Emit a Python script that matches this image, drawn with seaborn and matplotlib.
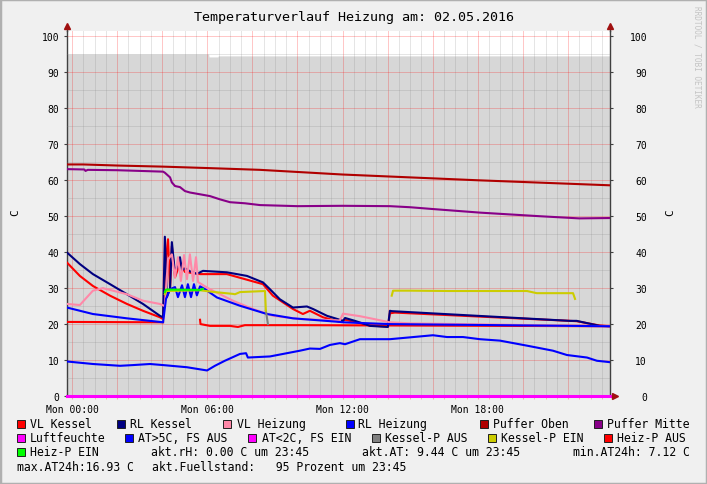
import numpy as np
import pandas as pd
import seaborn as sns
import matplotlib.pyplot as plt
import matplotlib.transforms as mtrans
from matplotlib.patches import Rectangle
from matplotlib.ticker import MultipleLocator, FuncFormatter

W, H = 707, 485

# time in hours since Mon 00:00, values in C
fuell_t = [-0.22, 6.06, 6.08, 6.47, 6.49, 23.86]
fuell_v = [95.1, 95.1, 94.3, 94.3, 94.6, 94.6]

po_t = [-0.22, 0.5, 2.0, 4.0, 6.0, 8.34, 12.0, 18.0, 23.86]
po_v = [64.4, 64.4, 64.1, 63.8, 63.4, 62.9, 61.6, 60.0, 58.6]

pm_t = [-0.22, 0.55, 0.6, 0.7, 2.0, 4.04, 4.12, 4.35, 4.43, 4.57, 4.79, 5.01, 5.23, 5.68,
        6.12, 6.56, 7.01, 7.67, 8.34, 10.0, 12.0, 14.1, 15.0, 16.0, 18.1, 20.75, 22.5, 23.86]
pm_v = [63.1, 63.0, 62.6, 62.9, 62.8, 62.4, 62.1, 60.8, 59.4, 58.4, 58.1, 57.0, 56.6, 56.1,
        55.6, 54.7, 53.9, 53.6, 53.1, 52.8, 52.9, 52.8, 52.5, 52.0, 51.0, 50.0, 49.4, 49.5]

at_t = [-0.22, 0.93, 2.13, 2.71, 3.46, 4.04, 5.10, 5.99, 6.34, 6.78, 7.45, 7.72, 7.80,
        8.78, 10.11, 10.55, 11.0, 11.44, 11.88, 12.11, 12.77, 14.10, 16.01, 16.63, 17.34,
        18.09, 18.98, 20.18, 21.33, 21.95, 22.84, 23.28, 23.73, 23.86]
at_v = [9.6, 8.9, 8.4, 8.6, 8.9, 8.6, 8.0, 7.1, 8.4, 9.8, 11.7, 11.9, 10.7,
        11.0, 12.6, 13.2, 13.1, 14.2, 14.7, 14.4, 15.8, 15.8, 16.9, 16.4, 16.4,
        15.8, 15.4, 14.0, 12.6, 11.4, 10.7, 9.8, 9.5, 9.4]

vk_t = [-0.22, 0.35, 0.93, 1.69, 2.44, 3.15, 3.90, 4.04, 4.17, 4.26, 4.35, 4.43, 4.57,
        4.79, 5.01, 5.68, 6.87, 8.47, 8.91, 9.80, 10.24, 10.55, 11.13, 11.88, 12.11,
        12.55, 13.22, 14.01, 14.10, 14.32, 22.08, 22.38, 23.41, 23.86]
vk_v = [37.1, 33.4, 30.6, 27.9, 25.6, 23.7, 21.9, 21.4, 38.0, 43.6, 30.0, 41.7, 33.0,
        37.0, 34.5, 33.9, 33.9, 31.1, 27.9, 24.2, 22.8, 23.7, 21.9, 20.6, 21.2,
        20.6, 19.6, 19.3, 23.0, 23.2, 20.9, 20.8, 19.6, 19.4]

rk_t = [-0.22, 0.35, 0.93, 1.69, 2.44, 3.15, 3.90, 4.04, 4.12, 4.21, 4.35, 4.43, 4.57,
        4.70, 4.79, 4.88, 5.01, 5.23, 5.54, 5.68, 5.81, 6.87, 7.76, 8.47, 8.78, 9.22,
        9.80, 10.42, 10.69, 11.31, 11.88, 12.02, 12.11, 12.55, 13.22, 14.01, 14.10,
        14.18, 22.08, 22.38, 23.41, 23.86]
rk_v = [39.9, 36.7, 33.9, 31.1, 28.3, 25.6, 22.3, 21.9, 44.3, 27.5, 30.0, 42.8, 34.0,
        37.0, 38.6, 35.0, 35.5, 34.7, 34.0, 34.4, 34.8, 34.4, 33.4, 31.6, 29.7, 26.9,
        24.6, 24.9, 24.2, 22.3, 21.2, 20.9, 21.7, 20.9, 19.5, 19.2, 23.7,
        23.6, 20.9, 20.9, 19.5, 19.4]

vh_t = [-0.22, 0.35, 0.93, 1.37, 2.44, 3.15, 3.90, 4.12, 4.26, 4.43, 4.57, 4.70, 4.83,
        4.97, 5.10, 5.23, 5.37, 5.50, 5.59, 5.90, 6.12, 7.14, 8.03, 8.91, 10.11, 11.0,
        11.88, 12.02, 12.77, 14.10, 15.0, 23.86]
vh_v = [25.6, 25.3, 29.3, 30.0, 28.3, 26.5, 25.6, 25.0, 38.0, 39.4, 33.0, 38.6, 32.0,
        39.2, 32.5, 39.4, 32.0, 38.6, 31.7, 30.5, 29.7, 26.5, 24.2, 22.3, 21.4, 21.2,
        21.0, 22.9, 22.2, 20.5, 20.2, 19.4]

rh_t = [-0.22, 0.93, 2.44, 3.90, 4.04, 4.17, 4.35, 4.57, 4.70, 4.88, 5.01, 5.14, 5.28,
        5.41, 5.54, 5.68, 5.90, 6.43, 7.45, 8.65, 9.80, 11.88, 12.02, 14.10, 23.86]
rh_v = [24.6, 22.8, 21.6, 20.6, 20.5, 27.0, 29.7, 30.3, 27.5, 30.8, 27.5, 31.1, 27.5,
        31.1, 28.0, 30.5, 29.7, 27.4, 25.1, 22.8, 21.6, 20.6, 20.5, 20.0, 19.4]

ha_t1 = [-0.22, 4.04]
ha_v1 = [20.6, 20.5]
ha_t2 = [5.68, 5.70, 6.12, 7.01, 7.36, 7.67, 9.22, 10.11, 23.86]
ha_v2 = [21.2, 20.0, 19.5, 19.5, 19.2, 19.7, 19.7, 19.7, 19.4]

ke_t1 = [4.12, 4.17, 5.68, 6.34, 7.14, 7.23, 7.45, 8.56, 8.60]
ke_v1 = [28.3, 29.2, 29.4, 28.9, 28.4, 28.3, 28.9, 29.2, 23.7]
ke_t2 = [14.18, 14.24, 14.99, 16.76, 20.18, 20.61, 22.22, 22.31]
ke_v2 = [27.9, 29.3, 29.3, 29.2, 29.2, 28.6, 28.6, 27.0]

kp_t = [8.60, 8.69]
kp_v = [23.7, 20.0]

he_t = [4.12, 4.17, 5.68, 5.81]
he_v = [28.9, 29.6, 29.5, 29.8]

lf_t = [-0.22, 23.86]
lf_v = [0.0, 0.0]

legend_rows = [
    [("VL Kessel", "#ff0000"), ("RL Kessel", "#000080"), ("VL Heizung", "#ff88a8"),
     ("RL Heizung", "#0000ff"), ("Puffer Oben", "#b00000"), ("Puffer Mitte", "#880088")],
    [("Luftfeuchte", "#ff00ff"), ("AT>5C, FS AUS", "#0000ff"), ("AT<2C, FS EIN", "#ff00ff"),
     ("Kessel-P AUS", "#808080"), ("Kessel-P EIN", "#cccc00"), ("Heiz-P AUS", "#ff0000")],
    [("Heiz-P EIN", "#00ff00")],
]
info_texts = ["akt.rH: 0.00 C um 23:45", "akt.AT: 9.44 C um 23:45", "min.AT24h: 7.12 C",
              "max.AT24h:16.93 C", "akt.Fuellstand:   95 Prozent um 23:45"]

# drawing order (later = on top)
series = [
    ("AT", at_t, at_v, "#0000ff"),
    ("Puffer Oben", po_t, po_v, "#b00000"),
    ("Puffer Mitte", pm_t, pm_v, "#880088"),
    ("Heiz-P AUS 1", ha_t1, ha_v1, "#ff0000"),
    ("Heiz-P AUS 2", ha_t2, ha_v2, "#ff0000"),
    ("VL Kessel", vk_t, vk_v, "#ff0000"),
    ("RL Kessel", rk_t, rk_v, "#000080"),
    ("VL Heizung", vh_t, vh_v, "#ff88a8"),
    ("RL Heizung", rh_t, rh_v, "#0000ff"),
    ("Kessel-P AUS", kp_t, kp_v, "#808080"),
    ("Kessel-P EIN 1", ke_t1, ke_v1, "#cccc00"),
    ("Kessel-P EIN 2", ke_t2, ke_v2, "#cccc00"),
    ("Heiz-P EIN", he_t, he_v, "#00ff00"),
]

df = pd.concat([pd.DataFrame({"key": k, "t": t, "v": v}) for k, t, v, c in series],
               ignore_index=True)
palette = {k: c for k, t, v, c in series}
order = [k for k, t, v, c in series]

MONO = "DejaVu Sans Mono"
plt.rcParams["font.family"] = MONO

fig = plt.figure(figsize=(W / 100, H / 100), dpi=100)
fig.patch.set_facecolor("#f0f0f0")


def fx(x):
    return x / W


def fy(y):
    return 1 - y / H


ax_l, ax_r, ax_b, ax_t = 67, 610, 397, 31.7
ax = fig.add_axes([fx(ax_l), fy(ax_b), (ax_r - ax_l) / W, (ax_b - ax_t) / H])
ax.set_facecolor("white")

ax.fill_between(fuell_t, 0, fuell_v, color="#d7d7d7", lw=0, zorder=1)

sns.lineplot(data=df, x="t", y="v", hue="key", hue_order=order, palette=palette,
             estimator=None, sort=False, legend=False, linewidth=1.5, ax=ax, zorder=3)
ax.plot(lf_t, lf_v, color="#ff00ff", lw=2.2, clip_on=False, zorder=4)

ax.set_xlim(-0.22, 23.86)
ax.set_ylim(0, 101.6)

ax.xaxis.set_major_locator(MultipleLocator(2))
ax.xaxis.set_minor_locator(MultipleLocator(0.5))
ax.xaxis.set_major_formatter(FuncFormatter(
    lambda h, p: "Mon %02d:00" % h if int(round(h)) % 6 == 0 else ""))
ax.yaxis.set_major_locator(MultipleLocator(10))
ax.yaxis.set_minor_locator(MultipleLocator(5))

ax.grid(which="minor", color="#808080", alpha=0.2, lw=0.72)
ax.grid(which="major", color="#ff0000", alpha=0.22, lw=0.72)
ax.set_axisbelow(False)
for ln in ax.get_xgridlines() + ax.get_ygridlines():
    ln.set_zorder(2)

ax.tick_params(axis="x", which="both", length=2, color="#e8b0b0", labelsize=7,
               pad=3.5, labelcolor="black")
ax.tick_params(axis="y", which="major", length=2, color="#404040", labelsize=7,
               left=True, right=True, labelleft=True, labelright=True, pad=3.5)
ax.tick_params(axis="y", which="minor", length=0)
fig.canvas.draw()
for t in ax.yaxis.get_major_ticks():
    t.label2.set_horizontalalignment("right")
    t.label2.set_x(1.0)
    t.label2.set_transform(ax.get_yaxis_transform() +
                           mtrans.ScaledTranslation(37 / 100, 0, fig.dpi_scale_trans))

ax.set_xlabel("")
ax.set_ylabel("")
for s in ["top", "bottom"]:
    ax.spines[s].set_visible(False)
for s in ["left", "right"]:
    ax.spines[s].set_color("#404040")
    ax.spines[s].set_linewidth(1.0)

# axis arrows
ext = 5 / (ax_b - ax_t)
ax.plot([0, 0], [1, 1 + ext], transform=ax.transAxes, color="#404040", lw=1, clip_on=False)
ax.plot([1, 1], [1, 1 + ext], transform=ax.transAxes, color="#404040", lw=1, clip_on=False)
ax.plot([0, 1], [1 + ext, 1 + ext], transform=ax.transAxes, marker="^", markersize=4,
        color="#a01010", lw=0, clip_on=False, zorder=6)
ax.plot([1 + 5 / (ax_r - ax_l)], [0], transform=ax.transAxes, marker=">", markersize=4,
        color="#a01010", lw=0, clip_on=False, zorder=6)

fig.text(0.5, fy(17), "Temperaturverlauf Heizung am: 02.05.2016", ha="center", va="center",
         fontsize=9.6, family=MONO)
fig.text(fx(15), fy(213), "C", rotation=90, ha="center", va="center", fontsize=8)
fig.text(fx(670), fy(213), "C", rotation=90, ha="center", va="center", fontsize=8)
fig.text(fx(697), fy(6), "RRDTOOL / TOBI OETIKER", rotation=270, ha="center", va="top",
         fontsize=5.6, color="#c4c4c4")

# legend
row_y = [424.5, 439, 453, 467.3]
sq_x = [[17, 117, 223, 346, 480, 594], [17, 125, 248, 372, 488, 604], [17]]
tx_x = [[30, 130, 237, 358, 493, 607], [30, 138, 262, 385, 501, 617], [30]]
for r, row in enumerate(legend_rows):
    for i, (name, col) in enumerate(row):
        fig.patches.append(Rectangle((fx(sq_x[r][i]), fy(row_y[r] + 4)), 8 / W, 8 / H,
                                     transform=fig.transFigure, facecolor=col,
                                     edgecolor="#202020", lw=0.7))
        fig.text(fx(tx_x[r][i]), fy(row_y[r]), name, ha="left", va="center", fontsize=8.3)

info_pos = [(151, row_y[2]), (362, row_y[2]), (573, row_y[2]), (17, row_y[3]), (152, row_y[3])]
for (x, y), s in zip(info_pos, info_texts):
    fig.text(fx(x), fy(y), s, ha="left", va="center", fontsize=8.3)

# frame
fig.patches.append(Rectangle((0, 0), 1, 1, transform=fig.transFigure, fill=False,
                             edgecolor="#b0b0b0", lw=2.5))

fig.savefig("out.png", dpi=100, facecolor=fig.get_facecolor())
